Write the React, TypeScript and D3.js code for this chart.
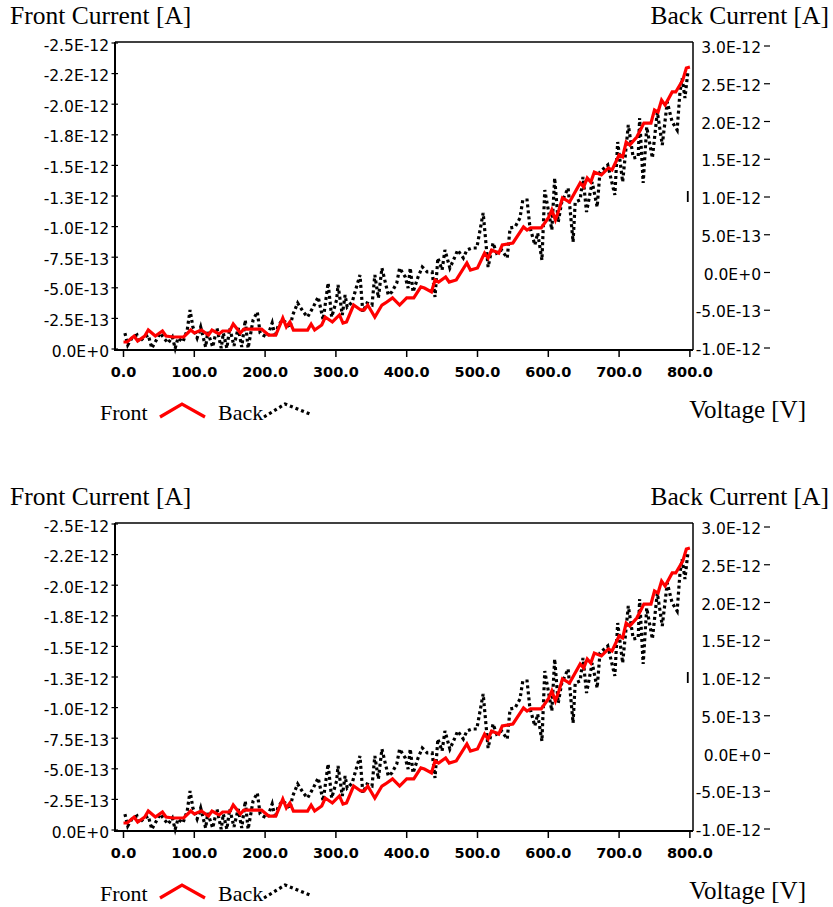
import React from "react";
import * as d3 from "d3";

// ---------- data ----------
const frontVoltage = [0,5,15,20,30,35,45,55,60,70,85,95,100,110,120,125,135,140,150,155,165,170,195,205,215,225,230,235,240,260,265,270,280,285,295,305,310,315,325,335,340,345,355,365,370,380,390,400,410,420,425,435,440,445,455,460,470,485,490,500,510,515,520,530,535,550,565,570,575,590,600,605,610,615,620,630,645,650,655,660,665,675,685,690,700,705,710,715,725,735,745,750,755,760,765,775,780,790,795,800];
const frontCurrent = [-0.57e-13,-0.57e-13,-1.06e-13,-0.65e-13,-1.06e-13,-1.55e-13,-1.06e-13,-1.47e-13,-1.06e-13,-0.98e-13,-0.98e-13,-1.55e-13,-1.31e-13,-1.55e-13,-1.14e-13,-1.55e-13,-1.23e-13,-1.47e-13,-1.47e-13,-2.04e-13,-1.31e-13,-1.63e-13,-1.63e-13,-1.14e-13,-1.14e-13,-2.53e-13,-1.8e-13,-2.21e-13,-1.55e-13,-1.55e-13,-2.04e-13,-1.55e-13,-1.96e-13,-2.61e-13,-2.21e-13,-2.78e-13,-2.12e-13,-2.21e-13,-3.59e-13,-3.19e-13,-3.19e-13,-3.59e-13,-2.61e-13,-3.59e-13,-3.76e-13,-4.17e-13,-3.59e-13,-4.17e-13,-4.17e-13,-5.07e-13,-4.98e-13,-4.66e-13,-5.64e-13,-5.47e-13,-5.88e-13,-5.47e-13,-5.64e-13,-7.03e-13,-6.45e-13,-6.62e-13,-7.84e-13,-7.43e-13,-8.09e-13,-7.84e-13,-8.5e-13,-8.66e-13,-9.97e-13,-9.72e-13,-9.89e-13,-9.89e-13,-10.7e-13,-11.36e-13,-10.54e-13,-11.36e-13,-12.34e-13,-12.0e-13,-13.56e-13,-13.24e-13,-13.97e-13,-13.64e-13,-14.46e-13,-14.22e-13,-14.79e-13,-14.62e-13,-15.85e-13,-15.69e-13,-16.91e-13,-16.67e-13,-17.32e-13,-18.46e-13,-18.46e-13,-19.53e-13,-19.36e-13,-20.34e-13,-19.93e-13,-21.0e-13,-21.0e-13,-21.98e-13,-22.96e-13,-23.04e-13];

const backVoltage = [2,6,12,19,22,28,35,40,44,52,57,63,69,73,77,84,90,94,98,104,109,116,119,126,132,138,141,146,150,156,162,167,172,176,183,189,193,197,203,210,214,218,224,231,235,239,246,254,260,268,275,282,289,294,301,303,309,313,316,323,327,334,338,344,351,355,360,365,369,374,379,386,390,398,402,405,409,416,422,429,436,440,444,450,454,461,468,472,480,485,492,499,508,515,522,527,534,542,546,553,560,564,570,574,581,585,591,595,600,605,609,614,619,628,635,638,645,649,654,662,669,673,684,694,698,705,713,720,727,729,734,739,747,754,761,768,775,782,786,789,793,797];
const backCurrent = [-7.91e-13,-9.48e-13,-8.56e-13,-8.17e-13,-9.08e-13,-8.56e-13,-8.17e-13,-9.9e-13,-9.22e-13,-7.91e-13,-8.56e-13,-9.22e-13,-8.43e-13,-9.9e-13,-8.56e-13,-9.08e-13,-7.52e-13,-4.9e-13,-7.12e-13,-8.56e-13,-7.12e-13,-9.74e-13,-7.78e-13,-9.74e-13,-7.25e-13,-9.9e-13,-7.91e-13,-9.9e-13,-7.25e-13,-9.6e-13,-7.25e-13,-9.74e-13,-6.21e-13,-9.9e-13,-6.21e-13,-5.16e-13,-7.91e-13,-8.17e-13,-8.43e-13,-6.6e-13,-8.43e-13,-7.12e-13,-6.21e-13,-6.6e-13,-7.25e-13,-5.56e-13,-3.99e-13,-5.16e-13,-5.82e-13,-4.51e-13,-3.2e-13,-6.21e-13,-1.37e-13,-5.82e-13,-3.59e-13,-1.63e-13,-5.56e-13,-2.94e-13,-4.51e-13,-3.86e-13,-2.55e-13,-0.33e-13,-5.16e-13,-3.99e-13,-4.25e-13,-0.33e-13,-3.33e-13,0.59e-13,-0.98e-13,-2.94e-13,-2.55e-13,-1.37e-13,0.59e-13,-0.59e-13,-2.03e-13,0.59e-13,-2.55e-13,-0.59e-13,0.72e-13,0.07e-13,0.07e-13,-3.2e-13,1.9e-13,0.33e-13,2.94e-13,0.59e-13,2.03e-13,2.94e-13,1.9e-13,2.94e-13,3.2e-13,3.2e-13,7.78e-13,0.72e-13,3.86e-13,2.55e-13,2.94e-13,1.9e-13,5.82e-13,5.95e-13,7.12e-13,9.48e-13,9.48e-13,5.95e-13,3.59e-13,5.16e-13,1.63e-13,10.78e-13,8.17e-13,5.56e-13,12.35e-13,6.6e-13,9.22e-13,11.05e-13,3.99e-13,9.22e-13,9.48e-13,12.48e-13,7.91e-13,11.83e-13,8.56e-13,13.14e-13,14.05e-13,10.13e-13,17.06e-13,11.83e-13,19.28e-13,14.97e-13,15.1e-13,20.2e-13,11.7e-13,19.02e-13,14.97e-13,20.98e-13,16.67e-13,22.29e-13,19.67e-13,18.63e-13,23.59e-13,25.42e-13,22.81e-13,26.08e-13];

const xTicks = [0,100,200,300,400,500,600,700,800];
const xTickLabels = ["0.0","100.0","200.0","300.0","400.0","500.0","600.0","700.0","800.0"];
const leftTicks = [-2.5e-12,-2.25e-12,-2.0e-12,-1.75e-12,-1.5e-12,-1.25e-12,-1.0e-12,-0.75e-12,-0.5e-12,-0.25e-12,0];
const leftTickLabels = ["-2.5E-12","-2.2E-12","-2.0E-12","-1.8E-12","-1.5E-12","-1.3E-12","-1.0E-12","-7.5E-13","-5.0E-13","-2.5E-13","0.0E+0"];
const rightTicks = [3e-12,2.5e-12,2e-12,1.5e-12,1e-12,0.5e-12,0,-0.5e-12,-1e-12];
const rightTickLabels = ["3.0E-12","2.5E-12","2.0E-12","1.5E-12","1.0E-12","5.0E-13","0.0E+0","-5.0E-13","-1.0E-12"];
const markerVoltage = 797;
const markerCurrent = 1e-12;

const titleLeft = "Front Current [A]";
const titleRight = "Back Current [A]";
const xTitle = "Voltage [V]";
const legendFront = "Front";
const legendBack = "Back";

// ---------- layout ----------
const W = 833, H = 907;
const PLOT = { left: 115, right: 693, top: 42, bottom: 350 };
const SERIF = "'Liberation Serif', 'Times New Roman', serif";
const SANS = "'DejaVu Sans', Verdana, sans-serif";

const x = d3.scaleLinear().domain([0, 800]).range([123.5, 689.9]);
const yL = d3.scaleLinear().domain([0, -2.5e-12]).range([349, 43]);
const yR = d3.scaleLinear().domain([-1e-12, 3e-12]).range([349, 43]);
const yRLabel = d3.scaleLinear().domain([-1e-12, 3e-12]).range([350, 48]);

const frontData: [number, number][] = frontVoltage.map((v, i) => [v, frontCurrent[i]]);
const backData: [number, number][] = backVoltage.map((v, i) => [v, backCurrent[i]]);

const frontLine = d3.line<[number, number]>().x(d => x(d[0])).y(d => yL(d[1]));
const backLine = d3.line<[number, number]>().x(d => x(d[0])).y(d => yR(d[1]));

function Chart({ dy }: { dy: number }) {
  return (
    <g transform={`translate(0,${dy})`}>
      <text x={10} y={24} fontFamily={SERIF} fontSize={25.5} fill="#000">{titleLeft}</text>
      <text x={829} y={24} fontFamily={SERIF} fontSize={25.5} fill="#000" textAnchor="end">{titleRight}</text>

      {/* frame */}
      <line x1={PLOT.left} x2={PLOT.right} y1={PLOT.top} y2={PLOT.top} stroke="#000" strokeWidth={1.5} />
      <line x1={PLOT.right} x2={PLOT.right} y1={PLOT.top} y2={PLOT.bottom} stroke="#000" strokeWidth={1.5} />
      <line x1={PLOT.left} x2={PLOT.left} y1={PLOT.top} y2={PLOT.bottom + 1} stroke="#000" strokeWidth={2} />
      <line x1={PLOT.left} x2={PLOT.right} y1={PLOT.bottom} y2={PLOT.bottom} stroke="#000" strokeWidth={2} />

      {/* left axis */}
      {leftTicks.map((t, i) => (
        <g key={"l" + i}>
          <line x1={111.5} x2={118} y1={yL(t)} y2={yL(t)} stroke="#000" strokeWidth={1.2} />
          <text x={109} y={yL(t) + 2.5} dominantBaseline="central" textAnchor="end" fontFamily={SANS} fontSize={15.5} fill="#000">{leftTickLabels[i]}</text>
        </g>
      ))}

      {/* right axis */}
      {rightTicks.map((t, i) => (
        <g key={"r" + i}>
          <text x={761} y={yRLabel(t)} dominantBaseline="central" textAnchor="end" fontFamily={SANS} fontSize={15.5} fill="#000">{rightTickLabels[i]}</text>
          <line x1={764} x2={770} y1={yRLabel(t) - 2} y2={yRLabel(t) - 2} stroke="#000" strokeWidth={1.2} />
        </g>
      ))}

      {/* x axis */}
      {xTicks.map((t, i) => (
        <g key={"x" + i}>
          <line x1={x(t)} x2={x(t)} y1={PLOT.bottom} y2={PLOT.bottom + 7} stroke="#000" strokeWidth={1.5} />
          <text x={x(t)} y={377} textAnchor="middle" fontFamily={SANS} fontWeight="bold" fontSize={14.5} fill="#000">{xTickLabels[i]}</text>
        </g>
      ))}

      {/* data */}
      <path d={backLine(backData) || ""} fill="none" stroke="#000" strokeWidth={3.2} strokeDasharray="3 3" />
      <path d={frontLine(frontData) || ""} fill="none" stroke="#ff0000" strokeWidth={3.2} />
      <line x1={x(markerVoltage)} x2={x(markerVoltage)} y1={yR(markerCurrent) - 5} y2={yR(markerCurrent) + 6} stroke="#000" strokeWidth={1.8} />

      {/* legend */}
      <text x={100} y={420} fontFamily={SERIF} fontSize={22} fill="#000">{legendFront}</text>
      <polyline points="160,417 182,404 205,417" fill="none" stroke="#ff0000" strokeWidth={3.2} />
      <text x={218} y={420} fontFamily={SERIF} fontSize={22} fill="#000">{legendBack}</text>
      <polyline points="264,417 285,404 310,414" fill="none" stroke="#000" strokeWidth={3.2} strokeDasharray="3 3" />
      <text x={806} y={418} textAnchor="end" fontFamily={SERIF} fontSize={25} fill="#000">{xTitle}</text>
    </g>
  );
}

export default function App() {
  return (
    <svg width={W} height={H} style={{ position: "absolute", left: 0, top: 0, background: "#fff" }}>
      <rect width={W} height={H} fill="#fff" />
      <Chart dy={0} />
      <Chart dy={481} />
    </svg>
  );
}
